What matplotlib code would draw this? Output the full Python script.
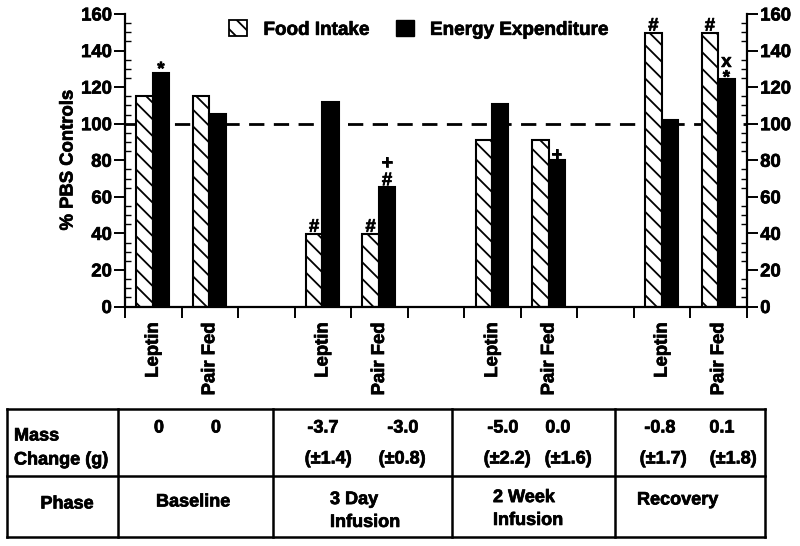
import matplotlib
matplotlib.use("Agg")
import matplotlib.pyplot as plt
import matplotlib.patheffects as pe
from matplotlib.text import Text
from matplotlib.patches import Patch
from matplotlib.lines import Line2D
from matplotlib.ticker import MultipleLocator

plt.rcParams['font.family'] = ['Liberation Sans', 'DejaVu Sans']
plt.rcParams['font.weight'] = 'bold'
plt.rcParams['hatch.linewidth'] = 1.3

# ---------------- data ----------------
groups = ["Leptin", "Pair Fed", "Leptin", "Pair Fed", "Leptin", "Pair Fed", "Leptin", "Pair Fed"]
slots = [0, 1, 3, 4, 6, 7, 9, 10]
food_intake = [115, 115, 39.5, 39.5, 91, 91, 149.5, 149.5]
energy_expenditure = [128, 105.5, 112, 65.5, 110.5, 80, 102, 124.5]
food_marks = [[], [], ["#"], ["#"], [], [], ["#"], ["#"]]
energy_marks = [["*"], [], [], ["#", "+"], [], ["+"], [], ["*", "x"]]
reference_level = 100

mass_change = ["0", "0", "-3.7", "-3.0", "-5.0", "0.0", "-0.8", "0.1"]
mass_sem = ["", "", "(±1.4)", "(±0.8)", "(±2.2)", "(±1.6)", "(±1.7)", "(±1.8)"]
phases = ["Baseline", "3 Day\nInfusion", "2 Week\nInfusion", "Recovery"]

# ---------------- layout ----------------
W, H = 800, 546
def fx(p): return p / W
def fy(p): return 1 - p / H

fig = plt.figure(figsize=(8, 5.46), dpi=100)
ax = fig.add_axes([fx(125), fy(306.5), fx(747) - fx(125), (306.5 - 14) / H])

bw = 0.29
off_food, off_energy = 0.345, 0.635
FS = 13.3
HATCH = '\\\\'

ax.axhline(reference_level, color='black', lw=2, ls=(0, (5.5, 3.4)), zorder=1)

xf = [s + off_food for s in slots]
xe = [s + off_energy for s in slots]
ax.bar(xf, food_intake, width=bw, facecolor='white', edgecolor='black',
       hatch=HATCH, lw=1.5, zorder=2)
ax.bar(xe, energy_expenditure, width=bw, facecolor='black', edgecolor='black',
       lw=1.5, zorder=2)

# significance marks: baseline offsets above bar top (px)
food_offs = [[], [], [2.5], [2.5], [], [], [2.5], [2.5]]
energy_offs = [[-2], [], [], [1.5, 18.5], [], [0], [], [-4, 12]]
for x, v, marks, offs in zip(xf, food_intake, food_marks, food_offs):
    for m, o in zip(marks, offs):
        ax.annotate(m, xy=(x, v), xytext=(0, o * 0.72), textcoords='offset points',
                    ha='center', va='baseline', fontsize=FS, fontweight='bold', zorder=3)
for x, v, marks, offs in zip(xe, energy_expenditure, energy_marks, energy_offs):
    for m, o in zip(marks, offs):
        ax.annotate(m, xy=(x, v), xytext=(0, o * 0.72), textcoords='offset points',
                    ha='center', va='baseline', fontsize=FS, fontweight='bold', zorder=3)

ax.set_xlim(0, 11)
ax.set_ylim(0, 160)
ax.spines['top'].set_visible(False)
for s in ['left', 'right', 'bottom']:
    ax.spines[s].set_linewidth(1.6)

ax.yaxis.set_major_locator(MultipleLocator(20))
ax.yaxis.set_minor_locator(MultipleLocator(5))
ax.tick_params(axis='y', which='major', direction='out', length=8, width=1.4,
               left=True, right=True, labelleft=True, labelright=True,
               labelsize=FS, pad=1.5)
ax.tick_params(axis='y', which='minor', direction='in', length=4, width=1.0,
               left=True, right=True)
for lab in ax.get_yticklabels():
    lab.set_fontweight('bold')

ax.set_xticks(range(0, 12))
ax.set_xticklabels([])
ax.set_xticks([s + 0.5 for s in slots], minor=True)
ax.set_xticklabels(groups, minor=True, rotation=90, fontsize=FS, fontweight='bold')
ax.tick_params(axis='x', which='major', direction='out', length=8, width=1.4)
ax.tick_params(axis='x', which='minor', length=0, pad=11.5)

fig.text(fx(68), fy(160), "% PBS Controls", rotation=90, ha='center', va='center',
         fontsize=FS, fontweight='bold')

handles = [Patch(facecolor='white', edgecolor='black', hatch=HATCH, lw=1.3, label='Food Intake'),
           Patch(facecolor='black', edgecolor='black', label='Energy Expenditure')]
leg = fig.legend(handles=handles, loc='center left', bbox_to_anchor=(fx(220), fy(29.5)),
                 ncol=2, frameon=False, borderpad=0, handlelength=0.95, handleheight=0.95,
                 handletextpad=0.85, columnspacing=1.4, prop={'size': FS + 0.3, 'weight': 'bold'})

# ---------------- table ----------------
col_x = [7, 118, 273, 452, 615, 765]
row_y = [409, 476, 537]
lw_t = 1.8
for y in row_y:
    fig.add_artist(Line2D([fx(col_x[0]), fx(col_x[-1])], [fy(y), fy(y)], color='black', lw=lw_t))
for x in col_x:
    fig.add_artist(Line2D([fx(x), fx(x)], [fy(row_y[0]), fy(row_y[-1])], color='black', lw=lw_t))

TFS = 13
fig.text(fx(14), fy(436), "Mass", ha='left', va='center', fontsize=TFS, fontweight='bold')
fig.text(fx(14), fy(460), "Change (g)", ha='left', va='center', fontsize=TFS, fontweight='bold')
fig.text(fx(67), fy(504), "Phase", ha='center', va='center', fontsize=TFS, fontweight='bold')

mass_x = [159, 216, 323, 403, 503, 558, 660, 722]
sem_x = [159, 216, 328, 402, 507, 568, 663, 733]
for t, x in zip(mass_change, mass_x):
    fig.text(fx(x), fy(428), t, ha='center', va='center', fontsize=TFS, fontweight='bold')
for t, x in zip(mass_sem, sem_x):
    if t:
        fig.text(fx(x), fy(459), t, ha='center', va='center', fontsize=TFS, fontweight='bold')

phase_pos = [(193, 502, 'center'), (330, 511, 'left'), (493, 509, 'left'), (637, 500, 'left')]
for t, (x, y, ha) in zip(phases, phase_pos):
    fig.text(fx(x), fy(y), t, ha=ha, va='center', fontsize=TFS, fontweight='bold',
             linespacing=1.45, multialignment='left')

# slightly heavier strokes on all text, like the scanned Helvetica Bold
for t in fig.findobj(Text):
    t.set_path_effects([pe.withStroke(linewidth=0.5, foreground='black')])

fig.savefig("out.png", dpi=100)
